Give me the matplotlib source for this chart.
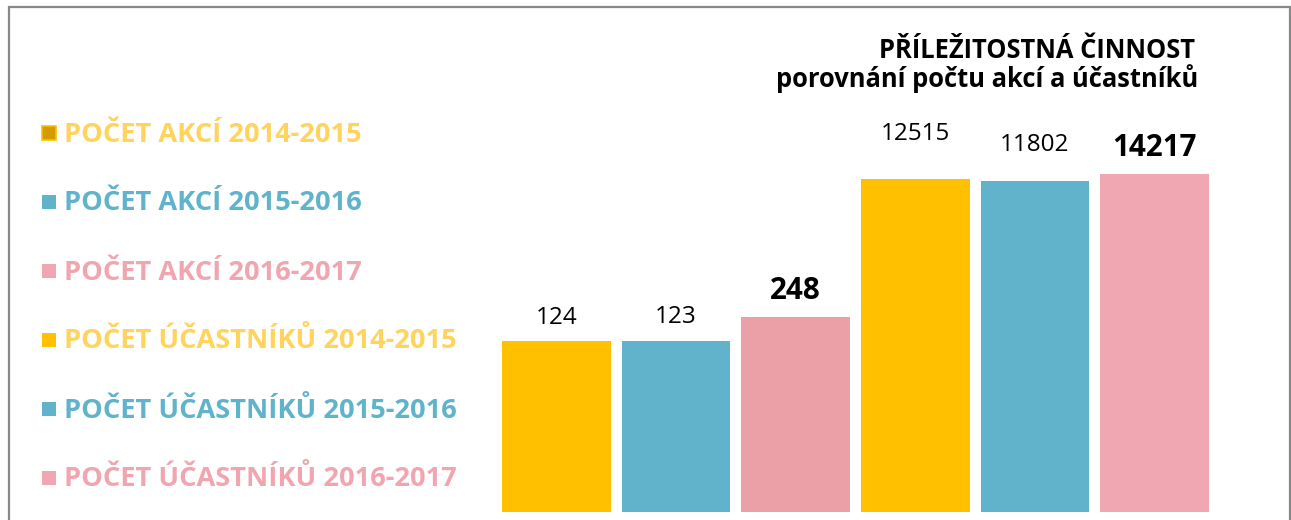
import matplotlib
matplotlib.use("Agg")
import matplotlib.pyplot as plt
from matplotlib.patches import Rectangle

plt.rcParams['font.family'] = ['Open Sans', 'DejaVu Sans']

# data
labels = ['POČET AKCÍ 2014-2015', 'POČET AKCÍ 2015-2016', 'POČET AKCÍ 2016-2017',
          'POČET ÚČASTNÍKŮ 2014-2015', 'POČET ÚČASTNÍKŮ 2015-2016', 'POČET ÚČASTNÍKŮ 2016-2017']
values = [124, 123, 248, 12515, 11802, 14217]
bold = [False, False, True, False, False, True]

# styles
bar_colors = ['#FFC000', '#61B3CB', '#EB9FA7', '#FFC000', '#61B3CB', '#F0A7B1']
text_colors = ['#FFD35C', '#5FB3CB', '#F0A5AF', '#FFD35C', '#5FB3CB', '#F0A5AF']
marker_colors = ['#D49B00', '#61B3CB', '#F0A7B1', '#FFC000', '#61B3CB', '#F0A7B1']
label_pad = [17, 18, 18, 39, 30, 18]  # px from bar top to label baseline

W, H = 1291, 520
fig = plt.figure(figsize=(W / 100, H / 100), dpi=100)

def fx(px):
    return px / W

def fy(py):
    return (H - py) / H

# axes placed so the bars land where they are in the reference
ax_left, ax_right = 496.7, 1214.3
ax_bottom, ax_top = 512, 60
ax = fig.add_axes([fx(ax_left), fy(ax_bottom), fx(ax_right - ax_left), (ax_bottom - ax_top) / H])
ax.set_yscale('log')
ybot = 0.966
ax.set_ylim(ybot, ybot * 10 ** ((ax_bottom - ax_top) / 81.09))
ax.set_xlim(-0.5, 5.5)
x = list(range(len(values)))
ax.bar(x, values, width=0.908, color=bar_colors, linewidth=0)
for xi, v, b, pad in zip(x, values, bold, label_pad):
    ax.annotate(str(v), (xi, v), xytext=(0, pad * 0.72), textcoords='offset points',
                ha='center', va='baseline',
                fontsize=21.3 if b else 17.5, fontweight='bold' if b else 'normal', color='black')
ax.axis('off')

# title
fig.text(fx(1195), fy(58), 'PŘÍLEŽITOSTNÁ ČINNOST', ha='right', va='baseline',
         fontsize=18.4, fontweight='bold', color='black')
fig.text(fx(1198), fy(87), 'porovnání počtu akcí a účastníků', ha='right', va='baseline',
         fontsize=18.4, fontweight='bold', color='black')

# legend on the left
for i, (lab, tc, mc) in enumerate(zip(labels, text_colors, marker_colors)):
    base = 141.5 + 69 * i
    fig.text(fx(64), fy(base), lab, ha='left', va='baseline',
             fontsize=19.6, fontweight='bold', color=tc)
    edge = '#FFC000' if i == 0 else mc
    fig.patches.append(Rectangle((fx(42), fy(base - 1.5)), fx(14), 14 / H,
                                 transform=fig.transFigure, facecolor=mc,
                                 edgecolor=edge, linewidth=1.2 if i == 0 else 0))

# outer frame
fig.patches.append(Rectangle((fx(8.5), -0.05), fx(1290 - 8.5), fy(6.5) + 0.05,
                             transform=fig.transFigure, fill=False,
                             edgecolor='#888888', linewidth=1.6, clip_on=False))

fig.savefig('out.png', dpi=100)
